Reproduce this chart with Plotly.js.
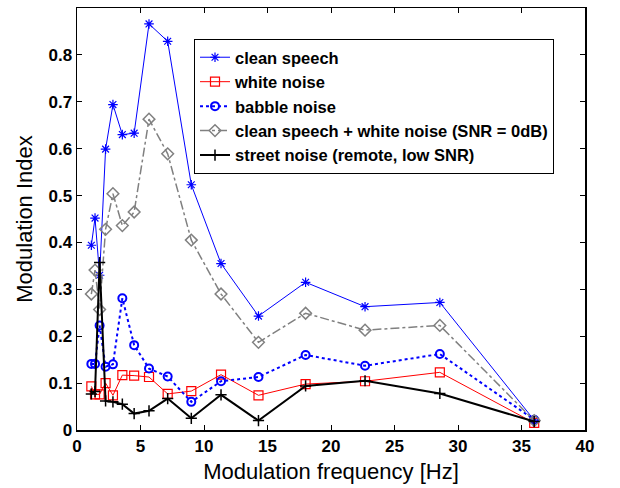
<!DOCTYPE html>
<html>
<head>
<meta charset="utf-8">
<script src="https://cdn.plot.ly/plotly-3.0.1.min.js"></script>
<style>html,body{margin:0;padding:0;background:#fff;}#chart{width:620px;height:488px;}</style>
</head>
<body>
<div id="chart"></div>
<script>
const freq = [1.13, 1.42, 1.78, 2.25, 2.83, 3.57, 4.5, 5.67, 7.14, 9.0, 11.34, 14.29, 18.0, 22.68, 28.57, 36.0];
const cleanSpeech = [0.394, 0.452, 0.33, 0.599, 0.694, 0.630, 0.633, 0.866, 0.829, 0.523, 0.355, 0.243, 0.315, 0.263, 0.272, 0.021];
const whiteNoise = [0.093, 0.076, 0.076, 0.100, 0.074, 0.117, 0.116, 0.113, 0.077, 0.083, 0.118, 0.074, 0.098, 0.104, 0.123, 0.015];
const babbleNoise = [0.141, 0.141, 0.223, 0.135, 0.140, 0.281, 0.181, 0.131, 0.114, 0.060, 0.104, 0.113, 0.160, 0.137, 0.162, 0.022];
const speechPlusWhite = [0.290, 0.341, 0.257, 0.428, 0.504, 0.436, 0.465, 0.663, 0.589, 0.405, 0.290, 0.187, 0.249, 0.213, 0.223, 0.020];
const streetNoise = [0.077, 0.082, 0.357, 0.062, 0.060, 0.055, 0.035, 0.041, 0.067, 0.025, 0.075, 0.020, 0.094, 0.105, 0.078, 0.018];
const seriesNames = ["clean speech", "white noise", "babble noise", "clean speech + white noise (SNR = 0dB)", "street noise (remote, low SNR)"];

const traces = [
  {x: freq, y: cleanSpeech, name: seriesNames[0], mode: "lines+markers",
   line: {color: "#0000ff", width: 1},
   marker: {symbol: "asterisk-open", size: 8, color: "#0000ff", line: {color: "#0000ff", width: 1.2}}},
  {x: freq, y: whiteNoise, name: seriesNames[1], mode: "lines+markers",
   line: {color: "#ff0000", width: 1},
   marker: {symbol: "square-open", size: 9, color: "#ff0000", line: {color: "#ff0000", width: 1.2}}},
  {x: freq, y: babbleNoise, name: seriesNames[2], mode: "lines+markers",
   line: {color: "#0000ff", width: 2, dash: "dot"},
   marker: {symbol: "circle-open", size: 8, color: "#0000ff", line: {color: "#0000ff", width: 2}}},
  {x: freq, y: speechPlusWhite, name: seriesNames[3], mode: "lines+markers",
   line: {color: "#808080", width: 1.5, dash: "dashdot"},
   marker: {symbol: "diamond-open", size: 9, color: "#808080", line: {color: "#808080", width: 1.5}}},
  {x: freq, y: streetNoise, name: seriesNames[4], mode: "lines+markers",
   line: {color: "#000000", width: 2},
   marker: {symbol: "cross-thin-open", size: 8, color: "#000000", line: {color: "#000000", width: 1.5}}}
];

const fontFam = "Liberation Sans, Arial, Helvetica, sans-serif";
const axisCommon = {
  showgrid: false, zeroline: false, showline: true, linecolor: "#000", linewidth: 1.5,
  mirror: "allticks", ticks: "inside", ticklen: 5, tickwidth: 1, tickcolor: "#000",
  tickfont: {family: fontFam, size: 17, color: "#000", weight: "bold"}
};

const layout = {
  width: 620, height: 488,
  margin: {l: 77, r: 35, t: 8, b: 58},
  paper_bgcolor: "#fff", plot_bgcolor: "#fff",
  showlegend: true,
  xaxis: Object.assign({}, axisCommon, {
    range: [0, 40], tickvals: [0, 5, 10, 15, 20, 25, 30, 35, 40],
    title: {text: "Modulation frequency [Hz]", font: {family: fontFam, size: 22, color: "#000"}, standoff: 8}
  }),
  yaxis: Object.assign({}, axisCommon, {
    range: [0, 0.9], tickvals: [0, 0.1, 0.2, 0.3, 0.4, 0.5, 0.6, 0.7, 0.8, 0.9],
    ticktext: ["0", "0.1", "0.2", "0.3", "0.4", "0.5", "0.6", "0.7", "0.8", "0.9"],
    title: {text: "Modulation Index", font: {family: fontFam, size: 22, color: "#000"}, standoff: 10}
  }),
  legend: {
    x: (194 - 77) / 508, xref: "paper", xanchor: "left",
    y: 1 - (39 - 8) / 422, yref: "paper", yanchor: "top",
    bgcolor: "#fff", bordercolor: "#000", borderwidth: 1,
    font: {family: fontFam, size: 16.5, color: "#000", weight: "bold"},
    tracegroupgap: 0
  }
};

Plotly.newPlot("chart", traces, layout, {displayModeBar: false, staticPlot: true});
</script>
</body>
</html>
